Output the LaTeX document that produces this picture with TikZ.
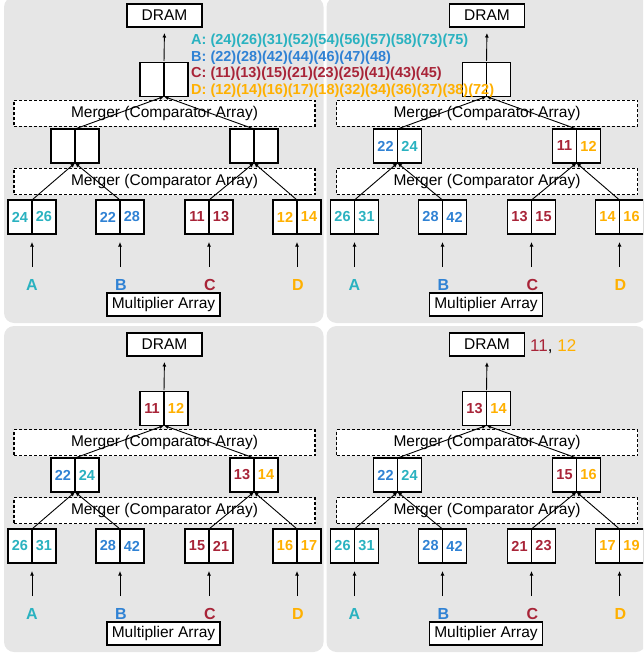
\documentclass[tikz,border=0pt]{standalone}
\usepackage{fontspec}
\setmainfont{Liberation Sans}
\usetikzlibrary{arrows.meta}

\definecolor{colA}{RGB}{42,178,192}
\definecolor{colB}{RGB}{48,130,212}
\definecolor{colC}{RGB}{168,36,56}
\definecolor{colD}{RGB}{255,176,0}
\definecolor{panelbg}{RGB}{230,230,230}

% coloured values of the four sorted streams
\newcommand\nA[1]{\textcolor{colA}{#1}}
\newcommand\nB[1]{\textcolor{colB}{#1}}
\newcommand\nC[1]{\textcolor{colC}{#1}}
\newcommand\nD[1]{\textcolor{colD}{#1}}

\tikzset{
  blockbox/.style={draw, fill=white, line width=1.2pt, inner sep=0pt, outer sep=0pt,
    font=\fontsize{15.5}{18}\selectfont},
  mergebox/.style={draw, fill=white, line width=1.1pt, dash pattern=on 3pt off 2pt,
    inner sep=0pt, outer sep=0pt, minimum width=301pt, minimum height=26pt,
    font=\fontsize{15.5}{18}\selectfont},
  cellbox/.style={draw, fill=white, line width=1.2pt, inner sep=0pt, outer sep=0pt,
    minimum width=24pt, minimum height=34pt, font=\bfseries\fontsize{14.5}{17}\selectfont},
  inlabel/.style={inner sep=0pt, font=\bfseries\fontsize{16}{19}\selectfont},
  link/.style={line width=0.9pt, -{Latex[length=4.5pt,width=4pt]}},
  legendline/.style={anchor=base west, inner sep=0pt, font=\bfseries\fontsize{14.5}{17}\selectfont},
}

% a two-entry buffer: name, divider x, centre y, left value, right value
\newcommand\cellpair[5]{%
  \node[cellbox, anchor=east] (#1l) at (#2,#3) {#4};
  \node[cellbox, anchor=west] (#1r) at (#2,#3) {#5};
}

% fixed parts of one merge-tree panel
\newcommand\panelbase[1]{%
  \fill[panelbg, rounded corners=10pt] (4,-3) rectangle (323.5,323);
  \node[blockbox, minimum width=75pt, minimum height=23pt] (#1dram) at (164.5,15.5) {DRAM};
  \node[mergebox] (#1mergeU) at (164.5,113.5) {Merger (Comparator Array)};
  \node[mergebox] (#1mergeL) at (164.5,181.5) {Merger (Comparator Array)};
  \node[blockbox, minimum width=113pt, minimum height=23pt] (#1mult) at (163.5,304.5) {Multiplier Array};
  \node[inlabel, text=colA] (#1labA) at (32,285) {A};
  \node[inlabel, text=colB] (#1labB) at (121,285) {B};
  \node[inlabel, text=colC] (#1labC) at (210,285) {C};
  \node[inlabel, text=colD] (#1labD) at (298,285) {D};
  \coordinate (#1inA) at (32,267);
  \coordinate (#1inB) at (120,267);
  \coordinate (#1inC) at (209,267);
  \coordinate (#1inD) at (297,267);
}

% connectors of one panel
\newcommand\panellinks[1]{%
  \draw[link, shorten >=8pt] (#1inA) -- (#1al.south east);
  \draw[link, shorten >=8pt] (#1inB) -- (#1bl.south east);
  \draw[link, shorten >=8pt] (#1inC) -- (#1cl.south east);
  \draw[link, shorten >=8pt] (#1inD) -- (#1dl.south east);
  \draw[link] (#1al.north east) -- (#1mll.south east);
  \draw[link] (#1bl.north east) -- (#1mll.south east);
  \draw[link] (#1cl.north east) -- (#1mrl.south east);
  \draw[link] (#1dl.north east) -- (#1mrl.south east);
  \draw[link] (#1mll.north east) -- (#1topl.south east);
  \draw[link] (#1mrl.north east) -- (#1topl.south east);
  \draw[link, shorten <=1.5pt, shorten >=6pt] (#1topl.north east) -- (#1dram.south);
}

\begin{document}
\begin{tikzpicture}[x=1pt, y=-1pt]
  \useasboundingbox (0,0) rectangle (643,655);
  \clip (0,0) rectangle (643,655);

  % panel 1: initial state
  \begin{scope}
    \panelbase{p1}
    \cellpair{p1top}{164}{79.5}{}{}
    \cellpair{p1ml}{75}{146}{}{}
    \cellpair{p1mr}{254}{146}{}{}
    \cellpair{p1a}{32}{217}{\nA{24}}{\nA{26}}
    \cellpair{p1b}{120}{217}{\nB{22}}{\nB{28}}
    \cellpair{p1c}{209}{217}{\nC{11}}{\nC{13}}
    \cellpair{p1d}{297}{217}{\nD{12}}{\nD{14}}
    \panellinks{p1}
  \end{scope}

  % panel 2
  \begin{scope}[shift={(322.5,0)}]
    \panelbase{p2}
    \cellpair{p2top}{164}{79.5}{}{}
    \cellpair{p2ml}{75}{146}{\nB{22}}{\nA{24}}
    \cellpair{p2mr}{254}{146}{\nC{11}}{\nD{12}}
    \cellpair{p2a}{32}{217}{\nA{26}}{\nA{31}}
    \cellpair{p2b}{120}{217}{\nB{28}}{\nB{42}}
    \cellpair{p2c}{209}{217}{\nC{13}}{\nC{15}}
    \cellpair{p2d}{297}{217}{\nD{14}}{\nD{16}}
    \panellinks{p2}
  \end{scope}

  % panel 3
  \begin{scope}[shift={(0,329)}]
    \panelbase{p3}
    \cellpair{p3top}{164}{79.5}{\nC{11}}{\nD{12}}
    \cellpair{p3ml}{75}{146}{\nB{22}}{\nA{24}}
    \cellpair{p3mr}{254}{146}{\nC{13}}{\nD{14}}
    \cellpair{p3a}{32}{217}{\nA{26}}{\nA{31}}
    \cellpair{p3b}{120}{217}{\nB{28}}{\nB{42}}
    \cellpair{p3c}{209}{217}{\nC{15}}{\nC{21}}
    \cellpair{p3d}{297}{217}{\nD{16}}{\nD{17}}
    \panellinks{p3}
  \end{scope}

  % panel 4
  \begin{scope}[shift={(322.5,329)}]
    \panelbase{p4}
    \cellpair{p4top}{164}{79.5}{\nC{13}}{\nD{14}}
    \cellpair{p4ml}{75}{146}{\nB{22}}{\nA{24}}
    \cellpair{p4mr}{254}{146}{\nC{15}}{\nD{16}}
    \cellpair{p4a}{32}{217}{\nA{26}}{\nA{31}}
    \cellpair{p4b}{120}{217}{\nB{28}}{\nB{42}}
    \cellpair{p4c}{209}{217}{\nC{21}}{\nC{23}}
    \cellpair{p4d}{297}{217}{\nD{17}}{\nD{19}}
    \panellinks{p4}
    \node[anchor=west, inner sep=0pt, font=\fontsize{17}{20}\selectfont] (p4written)
      at (207.5,18) {\nC{11}, \nD{12}};
  \end{scope}

  % the four input streams
  \node[legendline, text=colA] (streamA) at (191,45)   {A: (24)(26)(31)(52)(54)(56)(57)(58)(73)(75)};
  \node[legendline, text=colB] (streamB) at (191,61.5) {B: (22)(28)(42)(44)(46)(47)(48)};
  \node[legendline, text=colC] (streamC) at (191,78)   {C: (11)(13)(15)(21)(23)(25)(41)(43)(45)};
  \node[legendline, text=colD] (streamD) at (191,94.5) {D: (12)(14)(16)(17)(18)(32)(34)(36)(37)(38)(72)};
\end{tikzpicture}
\end{document}
